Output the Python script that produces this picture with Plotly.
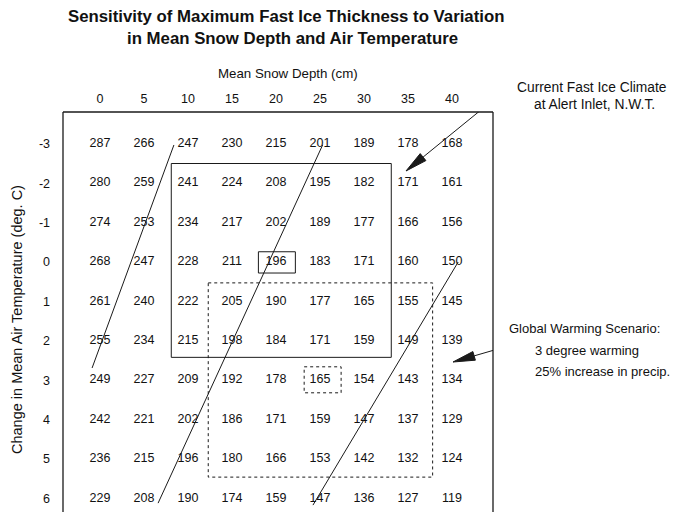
import math
import plotly.graph_objects as go

# ---------------- data ----------------
snow_depth = [0, 5, 10, 15, 20, 25, 30, 35, 40]          # cm
temp_change = [-3, -2, -1, 0, 1, 2, 3, 4, 5, 6]          # deg C
thickness = [
    [287, 266, 247, 230, 215, 201, 189, 178, 168],
    [280, 259, 241, 224, 208, 195, 182, 171, 161],
    [274, 253, 234, 217, 202, 189, 177, 166, 156],
    [268, 247, 228, 211, 196, 183, 171, 160, 150],
    [261, 240, 222, 205, 190, 177, 165, 155, 145],
    [255, 234, 215, 198, 184, 171, 159, 149, 139],
    [249, 227, 209, 192, 178, 165, 154, 143, 134],
    [242, 221, 202, 186, 171, 159, 147, 137, 129],
    [236, 215, 196, 180, 166, 153, 142, 132, 124],
    [229, 208, 190, 174, 159, 147, 136, 127, 119],
]
# scenario ranges (snow depth range, temperature range, centre cell)
current_range = {"snow": (10, 30), "temp": (-2, 2), "centre": (20, 0)}
warming_range = {"snow": (15, 35), "temp": (1, 5), "centre": (25, 3)}
# hand-drawn contour-like guide lines (snow depth, temp change) end points
guide_lines = [
    ((8.4, -2.97), (-0.9, 2.69)),
    ((25.3, -2.97), (6.6, 6.12)),
    ((40.7, 0.0), (24.2, 6.17)),
]

# ---------------- geometry (screen pixels; page body has an 8px margin) ----------------
OFF = 8
W, H = 679 - OFF, 520 - 2 * OFF
SL, SR, ST, SB = 63, 493, 112, OFF + H      # plot area on screen
X0_PX, DX_PX = 100, 44 / 5                  # screen x of snow=0, px per cm
Y0_PX, DY_PX = 262, 39.4                    # screen y of temp=0, px per deg
FONT = "Arial, Liberation Sans, Helvetica, sans-serif"

def sx_to_data(p):
    return (p - X0_PX) / DX_PX

def sy_to_data(p):
    return (p - Y0_PX) / DY_PX

def paper_x(p):
    return (p - SL) / (SR - SL)

def paper_y(p):
    return (SB - p) / (SB - ST)

xs, ys, txt = [], [], []
for i, t in enumerate(temp_change):
    for j, s in enumerate(snow_depth):
        xs.append(s)
        ys.append(t)
        txt.append(str(thickness[i][j]))

fig = go.Figure()
fig.add_trace(go.Scatter(
    x=xs, y=ys, text=txt, mode="text",
    textfont=dict(family=FONT, size=12.5, color="#111"),
    hoverinfo="text", showlegend=False, cliponaxis=False,
))

shapes = []
ink = "#1a1a1a"
frame = dict(color=ink, width=1.3)
# outer frame (bottom edge falls below the page)
shapes.append(dict(type="line", xref="paper", yref="paper", x0=0, y0=-0.05, x1=0, y1=1, line=frame))
shapes.append(dict(type="line", xref="paper", yref="paper", x0=0, y0=1, x1=1, y1=1, line=frame))
shapes.append(dict(type="line", xref="paper", yref="paper", x0=1, y0=1, x1=1, y1=-0.05, line=frame))

# current climate box (solid)
cs, ct = current_range["snow"], current_range["temp"]
shapes.append(dict(type="rect", xref="x", yref="y",
                   x0=cs[0] - 1.9, x1=cs[1] + 3.1, y0=ct[0] - 0.5, y1=ct[1] + 0.42,
                   line=dict(color=ink, width=1)))
cx, cy = current_range["centre"]
shapes.append(dict(type="rect", xref="x", yref="y",
                   x0=cx - 2.0, x1=cx + 2.2, y0=cy - 0.26, y1=cy + 0.28,
                   line=dict(color=ink, width=1)))
# warming scenario box (dashed)
ws, wt = warming_range["snow"], warming_range["temp"]
shapes.append(dict(type="rect", xref="x", yref="y",
                   x0=ws[0] - 2.7, x1=ws[1] + 2.8, y0=wt[0] - 0.47, y1=wt[1] + 0.46,
                   line=dict(color=ink, width=1, dash="dot")))
wx, wy = warming_range["centre"]
shapes.append(dict(type="rect", xref="x", yref="y",
                   x0=wx - 1.8, x1=wx + 2.4, y0=wy - 0.34, y1=wy + 0.32,
                   line=dict(color=ink, width=1, dash="dot")))
# guide lines
for (x0, y0), (x1, y1) in guide_lines:
    shapes.append(dict(type="line", xref="x", yref="y", x0=x0, y0=y0, x1=x1, y1=y1,
                       line=dict(color=ink, width=1)))

# pointer arrows: (tail, tip) in screen pixels; head drawn as a filled path
def arrow(tail, tip, head_len=22, head_w=9):
    ux, uy = tail[0] - tip[0], tail[1] - tip[1]
    n = math.hypot(ux, uy)
    ux, uy = ux / n, uy / n
    bx, by = tip[0] + ux * head_len, tip[1] + uy * head_len
    px_, py_ = -uy * head_w / 2, ux * head_w / 2
    pts = [tip, (bx + px_, by + py_), (bx - px_, by - py_)]
    path = "M " + " L ".join(f"{sx_to_data(a):.3f},{sy_to_data(b):.3f}" for a, b in pts) + " Z"
    return [
        dict(type="line", xref="x", yref="y",
             x0=sx_to_data(tail[0]), y0=sy_to_data(tail[1]),
             x1=sx_to_data(bx), y1=sy_to_data(by), line=dict(color=ink, width=1)),
        dict(type="path", xref="x", yref="y", path=path, fillcolor=ink, line=dict(color=ink, width=1)),
    ]

shapes += arrow((503, 92), (406, 171))
shapes += arrow((522, 342), (453, 362))

annotations = []
# title lines
annotations.append(dict(text="<b>Sensitivity of Maximum Fast Ice Thickness to Variation</b>",
                        xref="paper", yref="paper", x=paper_x(286), y=paper_y(17), showarrow=False,
                        font=dict(family=FONT, size=16.8, color="#111"), xanchor="center", yanchor="middle"))
annotations.append(dict(text="<b>in Mean Snow Depth and Air Temperature</b>",
                        xref="paper", yref="paper", x=paper_x(292), y=paper_y(39), showarrow=False,
                        font=dict(family=FONT, size=16.8, color="#111"), xanchor="center", yanchor="middle"))
# axis titles
annotations.append(dict(text="Mean Snow Depth (cm)", xref="paper", yref="paper",
                        x=paper_x(288), y=paper_y(73), showarrow=False,
                        font=dict(family=FONT, size=13.3, color="#111"),
                        xanchor="center", yanchor="middle"))
annotations.append(dict(text="Change in Mean Air Temperature (deg. C)", xref="paper", yref="paper",
                        x=paper_x(17), y=paper_y(320), showarrow=False, textangle=-90,
                        font=dict(family=FONT, size=14.5, color="#111"),
                        xanchor="center", yanchor="middle"))
# side notes
for text, xp, yp in [("Current Fast Ice Climate", 592, 88),
                     ("at Alert Inlet, N.W.T.", 594, 105)]:
    annotations.append(dict(text=text, xref="paper", yref="paper", x=paper_x(xp), y=paper_y(yp),
                            showarrow=False, font=dict(family=FONT, size=13.8, color="#111"),
                            xanchor="center", yanchor="middle"))
for text, xp, yp in [("Global Warming Scenario:", 507, 328),
                     ("3 degree warming", 533, 350),
                     ("25% increase in precip.", 533, 371)]:
    annotations.append(dict(text=text, xref="paper", yref="paper", x=paper_x(xp), y=paper_y(yp),
                            showarrow=False, font=dict(family=FONT, size=13, color="#111"),
                            xanchor="left", yanchor="middle"))

fig.update_layout(
    width=W, height=H,
    margin=dict(l=SL - OFF, r=W - (SR - OFF), t=ST - OFF, b=0, pad=0),
    paper_bgcolor="white", plot_bgcolor="white",
    xaxis=dict(range=[sx_to_data(SL), sx_to_data(SR)], side="top", tickvals=snow_depth,
               ticktext=[str(v) for v in snow_depth], showgrid=False, zeroline=False,
               showline=False, ticks="", ticklabelstandoff=6,
               tickfont=dict(family=FONT, size=12.5, color="#111"), fixedrange=True),
    yaxis=dict(range=[sy_to_data(SB), sy_to_data(ST)], tickvals=temp_change,
               ticktext=[str(v) for v in temp_change], showgrid=False, zeroline=False,
               showline=False, ticks="", ticklabelstandoff=12,
               tickfont=dict(family=FONT, size=12.5, color="#111"), fixedrange=True),
    shapes=shapes, annotations=annotations, showlegend=False,
)

fig.write_html("out.html")
